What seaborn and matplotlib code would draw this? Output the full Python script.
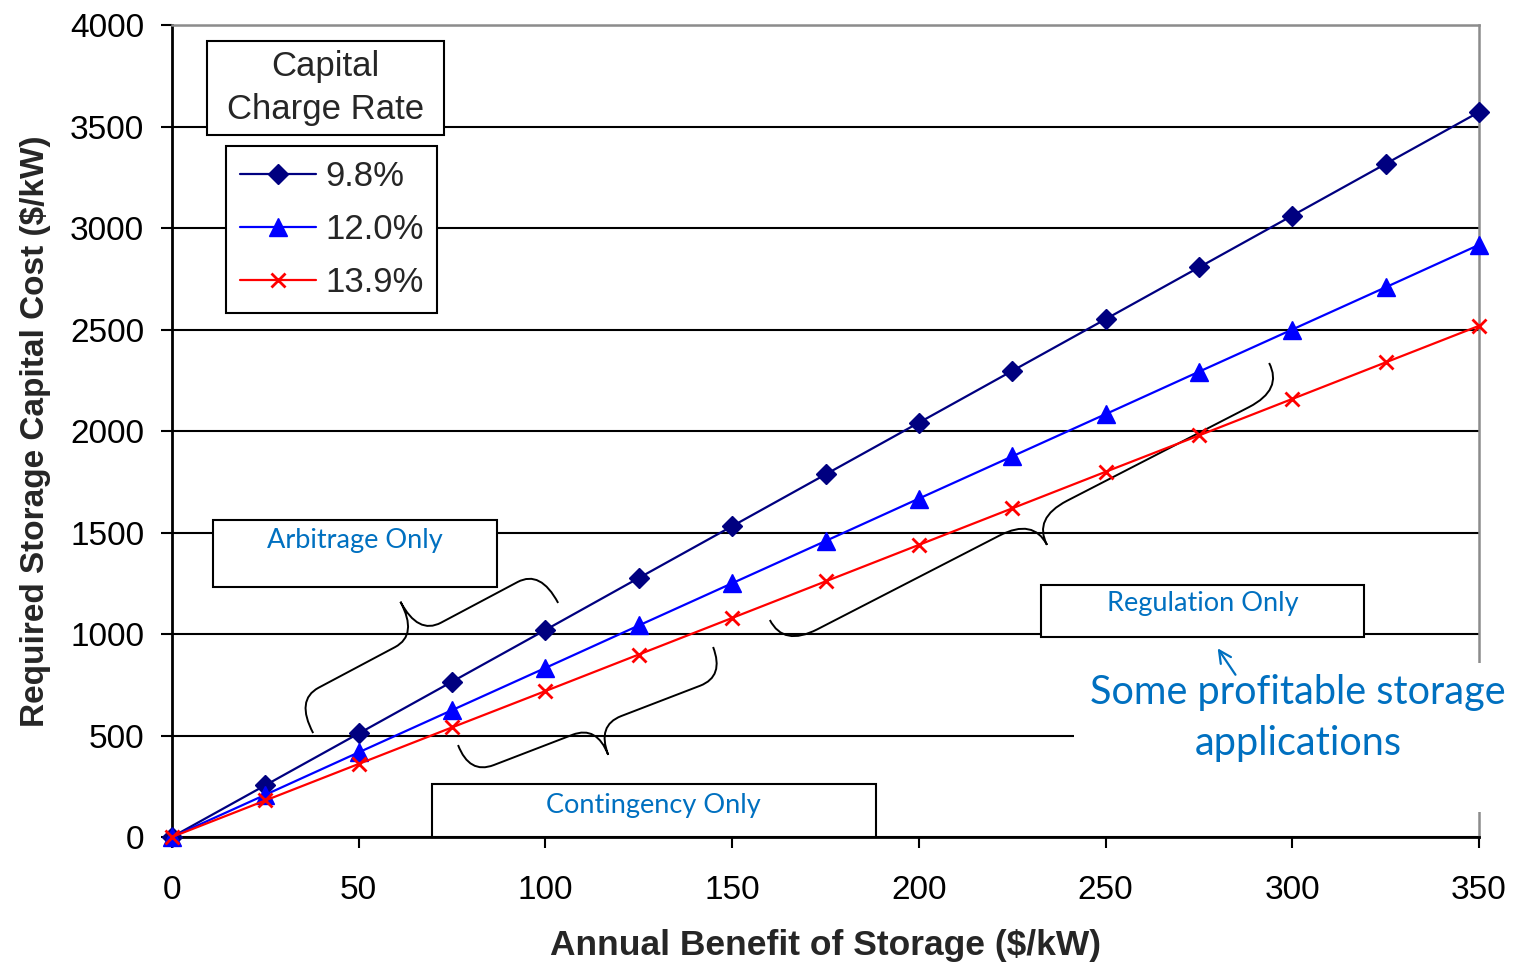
import numpy as np
import pandas as pd
import matplotlib
matplotlib.use("Agg")
import matplotlib.pyplot as plt
from matplotlib.patches import Rectangle, PathPatch
from matplotlib.path import Path
import seaborn as sns

# ---- data -------------------------------------------------------------
annual_benefit = [0, 25, 50, 75, 100, 125, 150, 175, 200, 225, 250, 275, 300, 325, 350]
cost_98 = [0, 255, 510, 765, 1020, 1276, 1531, 1786, 2041, 2296, 2551, 2806, 3061, 3316, 3571]
cost_120 = [0, 208, 417, 625, 833, 1042, 1250, 1458, 1667, 1875, 2083, 2292, 2500, 2708, 2917]
cost_139 = [0, 180, 360, 540, 719, 899, 1079, 1259, 1439, 1619, 1799, 1978, 2158, 2338, 2518]
series_labels = ["9.8%", "12.0%", "13.9%"]
x_ticks = [0, 50, 100, 150, 200, 250, 300, 350]
y_ticks = [0, 500, 1000, 1500, 2000, 2500, 3000, 3500, 4000]

sns.set_theme(style="white")
plt.rcParams["font.family"] = ["Liberation Sans", "DejaVu Sans"]

NOTE_BLUE = "#0070C0"
NOTE_FONT = ["Lato", "DejaVu Sans"]

fig = plt.figure(figsize=(15.13, 9.64), dpi=100)
ax = fig.add_axes([0.11368, 0.13174, 0.86385, 0.84232])

styles = [
    (cost_98, "#000080", "D", 10.5, 1.0),
    (cost_120, "#0000FF", "^", 13.0, 1.0),
    (cost_139, "#FF0000", "x", 9.5, 2.0),
]
for (vals, col, mk, ms, mew), lab in zip(styles, series_labels):
    df = pd.DataFrame({"benefit": annual_benefit, "cost": vals})
    sns.lineplot(data=df, x="benefit", y="cost", ax=ax, color=col, lw=1.6,
                 marker=mk, markersize=ms, markeredgecolor=col,
                 markerfacecolor=col, markeredgewidth=mew, label=lab,
                 clip_on=False, zorder=4)

ax.set_xlim(0, 350)
ax.set_ylim(0, 4000)
ax.set_xticks(x_ticks)
ax.set_yticks(y_ticks)
ax.tick_params(axis="both", labelsize=24, colors="black", length=8, width=1.5,
               direction="out")
ax.tick_params(axis="y", pad=12, left=True)
ax.tick_params(axis="x", pad=19, bottom=True)
ax.yaxis.grid(True, color="black", linewidth=1.5)
ax.xaxis.grid(False)
ax.set_axisbelow(True)

for side in ("left", "bottom"):
    ax.spines[side].set_color("black")
    ax.spines[side].set_linewidth(2.0)
for side in ("top", "right"):
    ax.spines[side].set_color("#8c8c8c")
    ax.spines[side].set_linewidth(1.8)

ax.set_xlabel("Annual Benefit of Storage ($/kW)", fontsize=25.5, fontweight="bold",
              labelpad=17)
ax.set_ylabel("Required Storage Capital Cost ($/kW)", fontsize=24,
              fontweight="bold", labelpad=14)

# ---- legend with its separate title box --------------------------------
handles, labels = ax.get_legend_handles_labels()
leg = ax.legend(handles, labels, loc="upper left", bbox_to_anchor=(0.0413, 0.851),
                bbox_transform=ax.transAxes, borderaxespad=0, fontsize=25,
                frameon=True, fancybox=False, edgecolor="black", framealpha=1,
                handlelength=2.2, handletextpad=0.25, labelspacing=0.58,
                borderpad=0.4, numpoints=1)
leg.get_frame().set_linewidth(1.5)
leg.set_zorder(6)

ax.add_patch(Rectangle((0.0268, 0.8645), 0.1813, 0.1158, transform=ax.transAxes,
                       facecolor="white", edgecolor="black", lw=1.5, zorder=6))
ax.text(0.1174, 0.922, "Capital\nCharge Rate", transform=ax.transAxes,
        ha="center", va="center", fontsize=25, linespacing=1.38, zorder=7)

# ---- application boxes ------------------------------------------------
def label_box(x0, x1, y0, y1, text, tx, ty):
    ax.add_patch(Rectangle((x0, y0), x1 - x0, y1 - y0, facecolor="white",
                           edgecolor="black", lw=1.5, zorder=3, clip_on=False))
    ax.text(tx, ty, text, ha="center", va="center", fontsize=19.5,
            color=NOTE_BLUE, family=NOTE_FONT, zorder=4)

label_box(11.0, 87.0, 1232, 1562, "Arbitrage Only", 49, 1463)
label_box(69.6, 188.5, 0, 261, "Contingency Only", 129, 153)
label_box(232.7, 319.2, 985, 1241, "Regulation Only", 276, 1148)

# white panel behind the callout text
ax.add_patch(Rectangle((241.5, 123), 120, 734, facecolor="white",
                       edgecolor="none", zorder=3, clip_on=False))
ax.text(301.5, 714, "Some profitable storage", ha="center", va="center",
        fontsize=28.5, color=NOTE_BLUE, family=NOTE_FONT, zorder=5, clip_on=False)
ax.text(301.5, 463, "applications", ha="center", va="center",
        fontsize=28.5, color=NOTE_BLUE, family=NOTE_FONT, zorder=5, clip_on=False)
ax.annotate("", xy=(279.6, 941), xytext=(285.2, 788),
            arrowprops=dict(arrowstyle="->", color=NOTE_BLUE, lw=1.6,
                            mutation_scale=22), zorder=5)

# ---- curly braces -----------------------------------------------------
def brace(p0, p1, depth, side, r):
    P0 = ax.transData.transform(p0)
    P1 = ax.transData.transform(p1)
    d = P1 - P0
    L = np.hypot(*d)
    u = d / L
    v = np.array([-u[1], u[0]]) * side
    h = depth / 2.0
    local = [(0, 0), (0, h), (r, h), (L / 2 - r, h), (L / 2, h), (L / 2, depth),
             (L / 2, h), (L / 2 + r, h), (L - r, h), (L, h), (L, 0)]
    codes = [Path.MOVETO, Path.CURVE3, Path.CURVE3, Path.LINETO, Path.CURVE3,
             Path.CURVE3, Path.CURVE3, Path.CURVE3, Path.LINETO, Path.CURVE3,
             Path.CURVE3]
    pts = np.array([P0 + s * u + t * v for s, t in local])
    pts = ax.transData.inverted().transform(pts)
    ax.add_patch(PathPatch(Path(pts, codes), facecolor="none", edgecolor="black",
                           lw=1.4, zorder=3, clip_on=False))

brace((37.8, 512), (103.4, 1153), 75, 1, 26)
brace((76.6, 453), (144.9, 936), 63, -1, 26)
brace((160.1, 1069), (293.8, 2335), 60, -1, 38)

fig.savefig("out.png", dpi=100)
